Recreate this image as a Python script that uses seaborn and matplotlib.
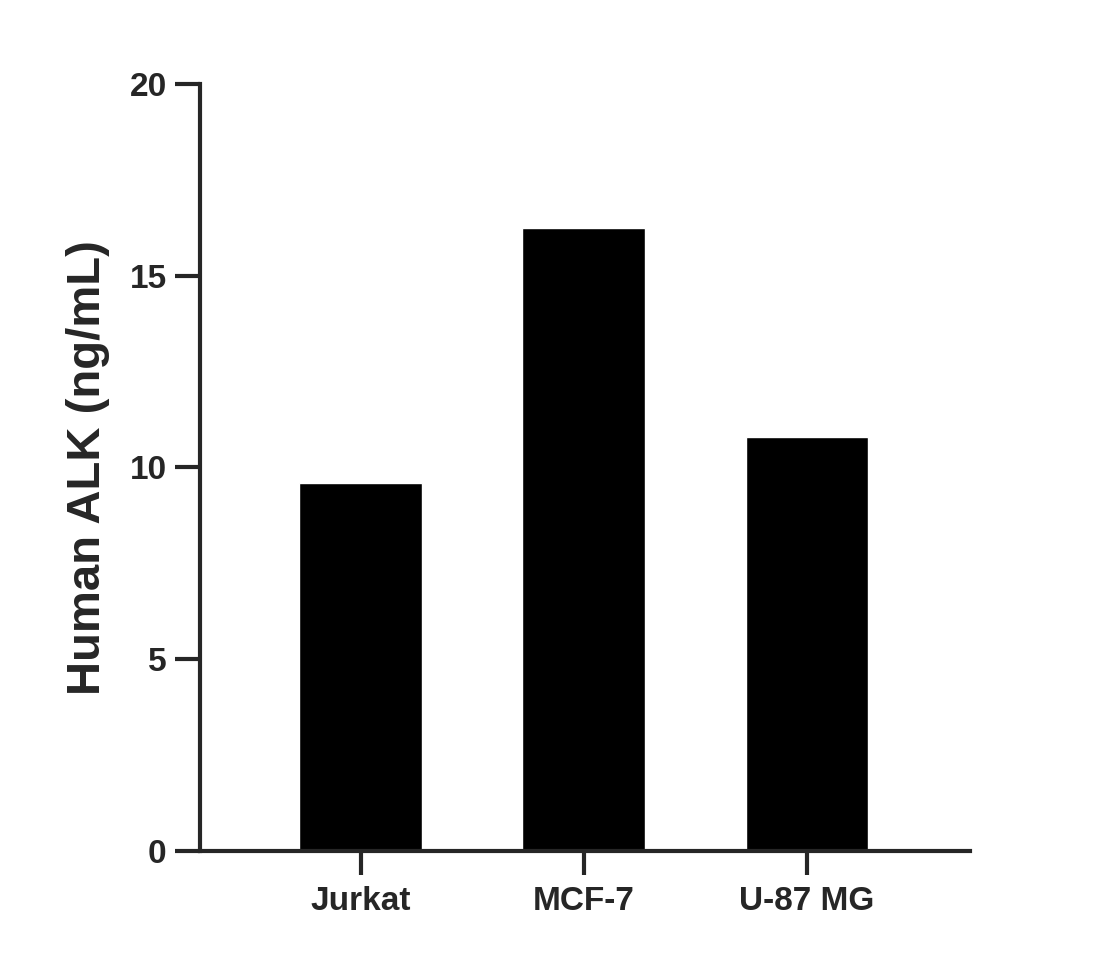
import seaborn as sns
import matplotlib.pyplot as plt
import pandas as pd

cells = ["Jurkat", "MCF-7", "U-87 MG"]
alk = [9.6, 16.25, 10.8]

df = pd.DataFrame({"cell": cells, "alk": alk})

sns.set_style("ticks")
plt.rcParams['font.family'] = ['Liberation Sans', 'DejaVu Sans']
plt.rcParams['font.weight'] = 'bold'

fig = plt.figure(figsize=(11.07, 9.68), dpi=100)
ax = fig.add_axes([0.1807, 0.1209, 0.6953, 0.7923])
sns.barplot(data=df, x="cell", y="alk", color="black", width=0.55, ax=ax, saturation=1)

ax.set_xlim(-0.72, 2.73)
ax.set_ylim(0, 20)
ax.set_yticks([0, 5, 10, 15, 20])
for s in ["top", "right"]:
    ax.spines[s].set_visible(False)
for s in ["left", "bottom"]:
    ax.spines[s].set_linewidth(3)
ax.tick_params(axis="y", length=18, width=3, labelsize=24, pad=6)
ax.tick_params(axis="x", length=17, width=3, labelsize=24, pad=8)
for lab in ax.get_xticklabels() + ax.get_yticklabels():
    lab.set_fontweight("bold")
ax.set_xlabel("")
ax.set_ylabel("Human ALK (ng/mL)", fontsize=34, fontweight="bold", labelpad=14)

fig.savefig("out.png", dpi=100)
